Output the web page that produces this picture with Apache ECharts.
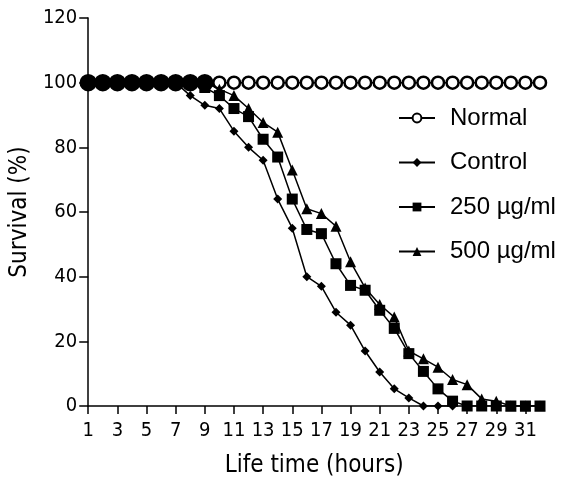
<!DOCTYPE html>
<html>
<head>
<meta charset="utf-8">
<script src="https://cdn.jsdelivr.net/npm/echarts@6/dist/echarts.min.js"></script>
<style>
html,body{margin:0;padding:0;background:#fff;}
#c{width:579px;height:483px;}
</style>
</head>
<body>
<div id="c"></div>
<script>
var hours = [1,2,3,4,5,6,7,8,9,10,11,12,13,14,15,16,17,18,19,20,21,22,23,24,25,26,27,28,29,30,31,32];
var xTicks = [1,3,5,7,9,11,13,15,17,19,21,23,25,27,29,31];
var normal = [100,100,100,100,100,100,100,100,100,100,100,100,100,100,100,100,100,100,100,100,100,100,100,100,100,100,100,100,100,100,100,100];
var control = [100,100,100,100,100,100,100,96,93,92,85,80,76,64,55,40,37,29,25,17,10.5,5.3,2.5,0,0,0];
var dose250 = [100,100,100,100,100,100,100,100,98.5,96,92,89.5,82.5,77,64,54.6,53.3,44,37.3,35.8,29.6,24,16.2,10.7,5.3,1.5,0,0,0,0,0,0];
var dose500 = [100,100,100,100,100,100,100,100,100,98,96,92,87.7,84.7,73,61,59.5,55.6,44.6,36.5,31.4,27.5,17,14.6,12,8.2,6.6,2.2,1.5,0,0,0];
var names = ['Normal','Control','250 µg/ml','500 µg/ml'];

function pairs(vals){ return vals.map(function(v,i){ return [hours[i], v]; }); }

var normalData = normal.map(function(v,i){
  var item = {value:[hours[i], v]};
  if (hours[i] <= 9) { item.itemStyle = {color:'#000', borderColor:'#000'}; item.symbolSize = 15; }
  return item;
});

var chart = echarts.init(document.getElementById('c'), null, {renderer:'canvas'});
var axisFont = "'DejaVu Sans Condensed', 'DejaVu Sans'";
chart.setOption({
  animation:false,
  backgroundColor:'#fff',
  grid:{left:87, right:39, top:18, bottom:75, containLabel:false},
  legend:{
    orient:'vertical', left:393, top:101, itemWidth:36, itemHeight:11, itemGap:20.5,
    textStyle:{fontFamily:'Liberation Sans', fontSize:24, color:'#000', padding:[0,0,0,10], lineHeight:24},
    data:names
  },
  xAxis:{
    type:'value', min:1, max:32,
    name:'Life time (hours)', nameLocation:'middle', nameGap:48,
    nameTextStyle:{fontFamily:axisFont, fontSize:24, color:'#000'},
    axisLine:{lineStyle:{color:'#000', width:1.5}},
    axisTick:{customValues:xTicks, length:8, lineStyle:{color:'#000', width:1.5}},
    axisLabel:{customValues:xTicks, fontFamily:axisFont, fontSize:20, color:'#000', margin:15},
    splitLine:{show:false}
  },
  yAxis:{
    type:'value', min:0, max:120, interval:20,
    name:'Survival (%)', nameLocation:'middle', nameGap:45,
    nameTextStyle:{fontFamily:axisFont, fontSize:24, color:'#000'},
    axisLine:{show:true, lineStyle:{color:'#000', width:1.5}},
    axisTick:{show:true, length:9, lineStyle:{color:'#000', width:1.5}},
    axisLabel:{fontFamily:axisFont, fontSize:20, color:'#000', margin:11},
    splitLine:{show:false}
  },
  series:[
    {name:names[0], type:'line', z:1, data:normalData, symbol:'circle', symbolSize:12,
     lineStyle:{color:'#000', width:1.5}, itemStyle:{color:'#fff', borderColor:'#000', borderWidth:2.5}},
    {name:names[1], type:'line', z:2, data:pairs(control), symbol:'diamond', symbolSize:9,
     lineStyle:{color:'#000', width:1.5}, itemStyle:{color:'#000'}},
    {name:names[3], type:'line', z:3, data:pairs(dose500), symbol:'triangle', symbolSize:11,
     lineStyle:{color:'#000', width:1.5}, itemStyle:{color:'#000'}},
    {name:names[2], type:'line', z:4, data:pairs(dose250), symbol:'rect', symbolSize:11,
     lineStyle:{color:'#000', width:1.5}, itemStyle:{color:'#000'}}
  ]
});
</script>
</body>
</html>
